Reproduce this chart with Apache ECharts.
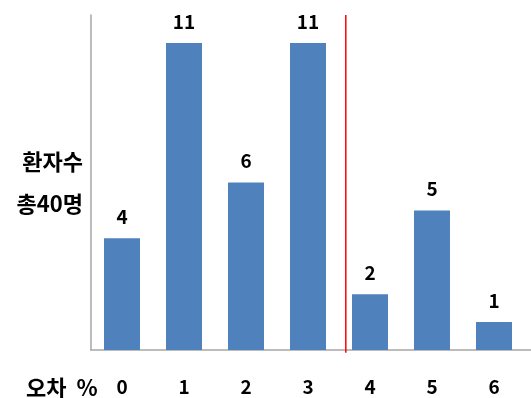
<!DOCTYPE html>
<html>
<head>
<meta charset="utf-8">
<script src="https://cdn.jsdelivr.net/npm/echarts@6/dist/echarts.min.js"></script>
<style>
  html, body { margin: 0; padding: 0; background: #fff; }
  #chart { width: 531px; height: 398px; }
</style>
</head>
<body>
<div id="chart"></div>
<script>
// Error (%) categories and number of patients in each
const categories = ['0', '1', '2', '3', '4', '5', '6'];
const patients = [4, 11, 6, 11, 2, 5, 1];
// Divider between the acceptable (0–3 %) and larger errors
const dividerX = 3.61;
const dividerSpan = [-0.1, 12];

const FONT = '"Noto Sans CJK KR", "Noto Sans", sans-serif';
const axisGray = '#a6a6a6';

const chart = echarts.init(document.getElementById('chart'));
chart.setOption({
  animation: false,
  title: {
    text: '오차  %',
    left: 21,
    top: 372,
    textStyle: { fontFamily: FONT, fontSize: 22, fontWeight: 'bold', color: '#000' }
  },
  grid: { left: 91, right: 0, top: 15, bottom: 48 },
  xAxis: {
    type: 'value',
    min: -0.5,
    max: 6.597,
    splitLine: { show: false },
    axisTick: { show: false },
    axisLine: { show: true, onZero: false, lineStyle: { color: axisGray, width: 1.5 } },
    axisLabel: {
      customValues: categories.map((c, i) => i),
      formatter: v => categories[Math.round(v)],
      margin: 27,
      fontFamily: FONT,
      fontSize: 19,
      fontWeight: 'bold',
      color: '#000'
    }
  },
  yAxis: {
    type: 'value',
    min: 0,
    max: 12,
    splitLine: { show: false },
    axisTick: { show: false },
    axisLabel: { show: false },
    axisLine: { show: true, onZero: false, lineStyle: { color: axisGray, width: 1.5 } },
    name: '환자수\n총40명',
    nameLocation: 'middle',
    nameRotate: 0,
    nameGap: 8,
    nameTextStyle: {
      fontFamily: FONT,
      fontSize: 22,
      fontWeight: 'bold',
      color: '#000',
      align: 'right',
      lineHeight: 42
    }
  },
  series: [
    {
      type: 'bar',
      barWidth: 36,
      data: patients.map((v, i) => [i, v]),
      itemStyle: { color: '#4f81bd' },
      label: {
        show: true,
        position: 'top',
        distance: 12,
        formatter: p => p.value[1],
        fontFamily: FONT,
        fontSize: 19,
        fontWeight: 'bold',
        color: '#000'
      }
    },
    {
      type: 'line',
      silent: true,
      clip: false,
      symbol: 'none',
      data: dividerSpan.map(y => [dividerX, y]),
      lineStyle: { color: '#ff0000', width: 1.5 }
    }
  ]
});
</script>
</body>
</html>
